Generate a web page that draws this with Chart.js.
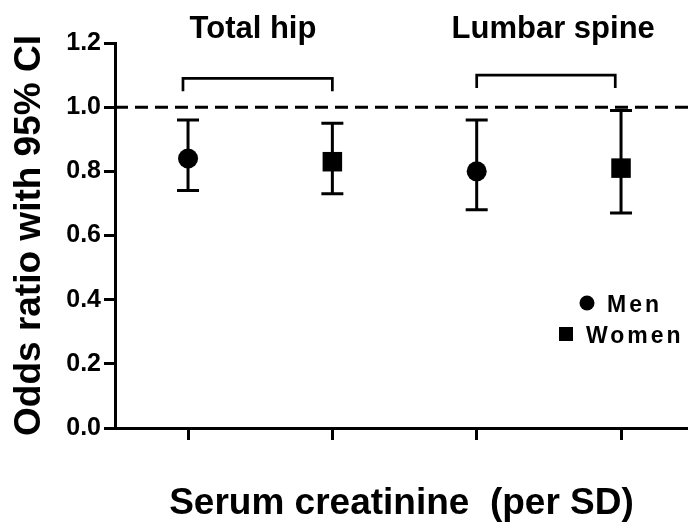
<!DOCTYPE html>
<html>
<head>
<meta charset="utf-8">
<script src="https://cdn.jsdelivr.net/npm/chart.js@4.4.1/dist/chart.umd.min.js"></script>
<style>
  html, body { margin: 0; padding: 0; background: #fff; }
  #wrap { width: 688px; height: 527px; }
</style>
</head>
<body>
<div id="wrap"><canvas id="myChart" width="688" height="527"></canvas></div>
<script>
// odds ratios, per site
const sites = ["Total hip", "Lumbar spine"];
const menX = [1, 3];
const womenX = [2, 4];
const menOR = [0.84, 0.80];
const menLow = [0.74, 0.68];
const menHigh = [0.96, 0.96];
const womenOR = [0.83, 0.81];
const womenLow = [0.73, 0.67];
const womenHigh = [0.95, 0.99];
const yTicks = [0, 0.2, 0.4, 0.6, 0.8, 1.0, 1.2];
const refLine = 1.0;
const bracketTop = [1.09, 1.10];
const bracketFoot = [1.05, 1.06];

const FONT = "'Liberation Sans', Arial, sans-serif";

// error bars, reference line, brackets, site titles and legend
const extras = {
  id: "extras",
  beforeDatasetsDraw(chart) {
    const ctx = chart.ctx;
    const xs = chart.scales.x, ys = chart.scales.y;
    const area = chart.chartArea;
    ctx.save();
    ctx.strokeStyle = "#000";
    ctx.lineWidth = 3;

    // dashed line at OR = 1
    ctx.setLineDash([13, 7]);
    ctx.beginPath();
    ctx.moveTo(area.left, ys.getPixelForValue(refLine));
    ctx.lineTo(area.right, ys.getPixelForValue(refLine));
    ctx.stroke();
    ctx.setLineDash([]);

    // whiskers
    const cap = 11;
    function whisker(x, lo, hi) {
      const px = xs.getPixelForValue(x);
      const pl = ys.getPixelForValue(lo), ph = ys.getPixelForValue(hi);
      ctx.beginPath();
      ctx.moveTo(px, pl); ctx.lineTo(px, ph);
      ctx.moveTo(px - cap, pl); ctx.lineTo(px + cap, pl);
      ctx.moveTo(px - cap, ph); ctx.lineTo(px + cap, ph);
      ctx.stroke();
    }
    for (let i = 0; i < sites.length; i++) {
      whisker(menX[i], menLow[i], menHigh[i]);
      whisker(womenX[i], womenLow[i], womenHigh[i]);
    }

    // brackets over each pair + site title
    ctx.lineWidth = 2.7;
    ctx.fillStyle = "#000";
    ctx.font = "bold 31px " + FONT;
    ctx.textAlign = "center";
    ctx.textBaseline = "alphabetic";
    const shift = [[-0.035, 0.0], [0.0, -0.04]];
    const titleOff = [-0.05, 0.03];
    for (let i = 0; i < sites.length; i++) {
      const x1 = xs.getPixelForValue(menX[i] + shift[i][0]);
      const x2 = xs.getPixelForValue(womenX[i] + shift[i][1]);
      const yt = ys.getPixelForValue(bracketTop[i]);
      const yf = ys.getPixelForValue(bracketFoot[i]);
      ctx.beginPath();
      ctx.moveTo(x1, yf); ctx.lineTo(x1, yt); ctx.lineTo(x2, yt); ctx.lineTo(x2, yf);
      ctx.stroke();
      const cx = xs.getPixelForValue((menX[i] + womenX[i]) / 2 + titleOff[i]);
      ctx.fillText(sites[i], cx, 38);
    }

    // legend
    ctx.font = "bold 23px " + FONT;
    ctx.textAlign = "left";
    ctx.letterSpacing = "3px";
    ctx.beginPath();
    ctx.arc(587, 303, 7.5, 0, Math.PI * 2);
    ctx.fill();
    ctx.fillText("Men", 607, 312);
    ctx.fillRect(559, 327, 14, 14);
    ctx.fillText("Women", 586, 343);
    ctx.restore();
  }
};

const ctx = document.getElementById("myChart").getContext("2d");
const myChart = new Chart(ctx, {
  type: "scatter",
  data: {
    datasets: [
      {
        label: "Men",
        data: menX.map((x, i) => ({ x: x, y: menOR[i] })),
        pointStyle: "circle",
        pointRadius: 10,
        backgroundColor: "#000",
        borderColor: "#000",
        borderWidth: 0
      },
      {
        label: "Women",
        data: womenX.map((x, i) => ({ x: x, y: womenOR[i] })),
        pointStyle: "rect",
        pointRadius: 13.8,
        backgroundColor: "#000",
        borderColor: "#000",
        borderWidth: 0
      }
    ]
  },
  options: {
    responsive: false,
    animation: false,
    layout: { autoPadding: false, padding: { top: 43, right: 0, left: 0, bottom: 0 } },
    plugins: {
      legend: { display: false },
      tooltip: { enabled: false }
    },
    scales: {
      x: {
        type: "linear",
        min: 0.494,
        max: 4.464,
        afterBuildTicks: (scale) => {
          scale.ticks = menX.concat(womenX).sort().map(v => ({ value: v }));
        },
        afterFit: (scale) => {
          scale.height = 99;
          scale.paddingLeft = 0;
          scale.paddingRight = 0;
        },
        border: { display: true, color: "#000", width: 3 },
        grid: {
          drawOnChartArea: false,
          drawTicks: true,
          tickLength: 12,
          tickWidth: 3,
          tickColor: "#000"
        },
        ticks: { display: false },
        title: {
          display: true,
          text: "Serum creatinine  (per SD)",
          color: "#000",
          font: { family: FONT, size: 37, weight: "bold" },
          padding: { top: 0, bottom: 1 }
        }
      },
      y: {
        min: 0,
        max: 1.2,
        afterBuildTicks: (scale) => {
          scale.ticks = yTicks.map(v => ({ value: v }));
        },
        afterFit: (scale) => { scale.width = 115; },
        border: { display: true, color: "#000", width: 3 },
        grid: {
          drawOnChartArea: false,
          drawTicks: true,
          tickLength: 11,
          tickWidth: 3,
          tickColor: "#000"
        },
        ticks: {
          color: "#000",
          padding: 3,
          font: { family: FONT, size: 25, weight: "bold" },
          callback: (v) => v.toFixed(1)
        },
        title: {
          display: true,
          text: "Odds ratio with 95% CI",
          color: "#000",
          font: { family: FONT, size: 37, weight: "bold" },
          padding: { top: 8, bottom: 0 }
        }
      }
    }
  },
  plugins: [extras]
});
</script>
</body>
</html>
